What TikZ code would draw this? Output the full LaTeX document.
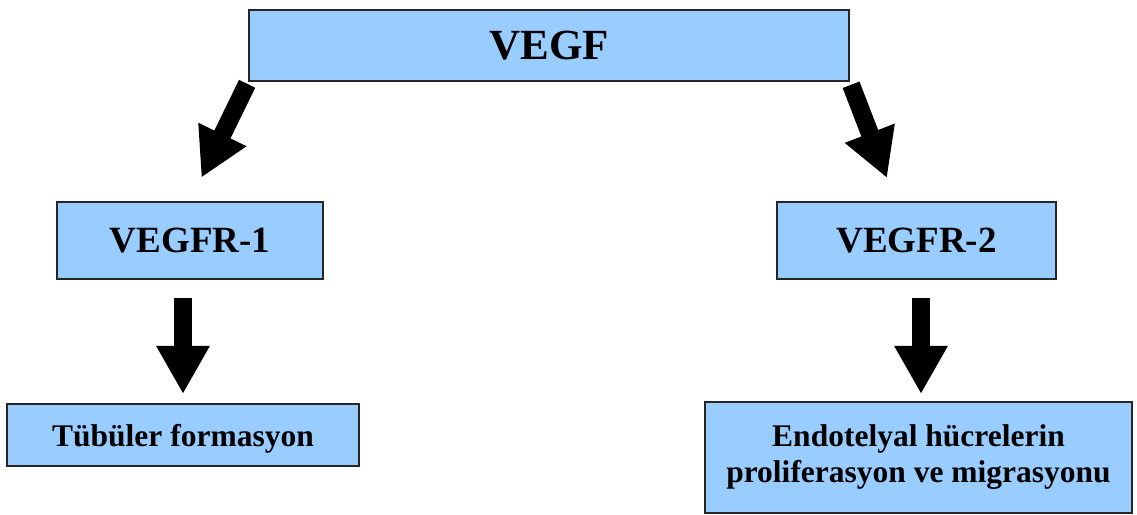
\documentclass[tikz,border=0pt]{standalone}
\usepackage{fontspec}
\setmainfont{Liberation Serif}
\usetikzlibrary{arrows.meta}
\definecolor{boxblue}{RGB}{153,204,255}
\begin{document}
\begin{tikzpicture}[
  x=1pt, y=1pt,
  font=\bfseries,
  box/.style={draw=black!85, line width=2pt, fill=boxblue, align=center, inner sep=0pt},
  bigarrow/.style={line width=18pt, -{Triangle[length=48pt, width=50pt]}}
]
\useasboundingbox (0,0) rectangle (1137,514);

\node[box, minimum width=600pt, minimum height=71pt, font=\bfseries\fontsize{43}{48}\selectfont]
  (vegf) at (549,468.5) {VEGF};
\node[box, minimum width=266pt, minimum height=77pt, font=\bfseries\fontsize{37}{42}\selectfont]
  (r1) at (190,273.5) {VEGFR-1};
\node[box, minimum width=279pt, minimum height=77pt, font=\bfseries\fontsize{37}{42}\selectfont]
  (r2) at (916.5,273.5) {VEGFR-2};
\node[box, minimum width=352pt, minimum height=62pt, text depth=0pt, font=\bfseries\fontsize{31.5}{36}\selectfont]
  (tub) at (183,79) {Tübüler formasyon};
\node[box, minimum width=427pt, minimum height=111pt, font=\bfseries\fontsize{31.5}{36}\selectfont]
  (endo) at (918.5,56.5) {Endotelyal hücrelerin\\ proliferasyon ve migrasyonu};

\coordinate (tipR) at (887,336);

\draw[bigarrow, shorten <=2pt, shorten >=26pt] (vegf.south west) -- (r1.north);
\draw[bigarrow, shorten <=3pt] (vegf.south east) -- (tipR);
\draw[bigarrow, shorten <=18pt, shorten >=9pt] (tub.north |- r1.south) -- (tub.north);
\draw[bigarrow, shorten <=18pt, shorten >=7pt] ([xshift=2.5pt]endo.north |- r2.south) -- ([xshift=2.5pt]endo.north);
\end{tikzpicture}
\end{document}
